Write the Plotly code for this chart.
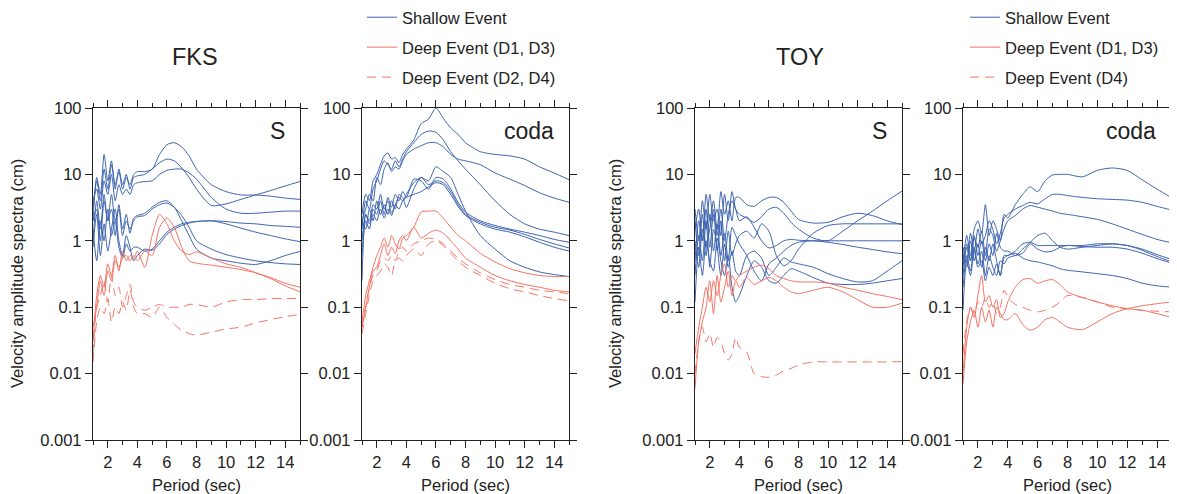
import plotly.graph_objects as go

# period grid (sec) shared by every spectrum
PERIOD = [1.0, 1.25, 1.5, 1.75, 2.0, 2.25, 2.5,
          2.75, 3.0, 3.25, 3.5, 3.75, 4.0, 4.5,
          5.0, 5.5, 6.0, 6.5, 7.0, 7.5, 8.0,
          9.0, 10.0, 11.0, 12.0, 13.0, 14.0, 15.0]

# ---- FKS, S window ----
FKS_S_SHALLOW = [
    [3, 8, 4, 12, 6, 14, 7, 11, 6, 9, 7, 10, 11, 11, 12, 20, 28, 30, 26, 19, 12, 7, 5.5, 4.9, 4.9, 4.7, 4.4, 4.2],
    [2, 9, 5, 20, 8, 16, 6, 12, 7, 10, 6, 9, 9.5, 10, 12, 15, 17, 16, 12.5, 9, 6, 3.4, 3.6, 4.2, 4.9, 5.7, 6.7, 7.8],
    [4, 6, 3, 8, 5, 10, 4, 7, 5, 6, 5, 7, 7.5, 7.8, 8, 10, 11.5, 12, 12, 10.5, 8.5, 4.5, 3, 2.6, 2.6, 2.7, 2.8, 2.8],
    [1, 4, 1.5, 5, 2, 3, 1.2, 3.5, 1.5, 2.5, 1.3, 2.2, 2.4, 2.6, 3.2, 3.8, 4.0, 3.2, 2.0, 1.2, 0.75, 0.55, 0.5, 0.46, 0.44, 0.5, 0.6, 0.69],
    [2, 3, 1, 4, 2, 5, 2, 3, 1.2, 2, 1.5, 2, 2.3, 2.4, 3.0, 3.5, 3.7, 3.2, 2.4, 1.6, 1.0, 0.75, 0.62, 0.55, 0.5, 0.47, 0.45, 0.44],
    [1.5, 0.5, 2, 1, 3, 1.2, 2, 0.8, 0.55, 0.9, 0.7, 0.8, 0.8, 0.7, 0.75, 1.0, 1.35, 1.6, 1.8, 1.9, 1.95, 2.0, 1.95, 1.85, 1.8, 1.7, 1.65, 1.6],
    [0.8, 2.5, 0.6, 1.8, 0.7, 1.5, 3, 1, 0.6, 1.2, 0.8, 0.5, 0.6, 0.75, 0.72, 0.9, 1.25, 1.5, 1.7, 1.85, 1.95, 2.0, 1.8, 1.55, 1.35, 1.2, 1.07, 0.97],
]
FKS_S_DEEP = [
    [0.03, 0.15, 0.3, 0.2, 0.45, 0.3, 0.6, 0.35, 0.7, 0.5, 0.6, 0.55, 0.7, 0.4, 1.2, 2.5, 1.8, 1.0, 0.7, 0.62, 0.68, 0.55, 0.45, 0.4, 0.33, 0.28, 0.23, 0.2],
    [0.05, 0.1, 0.25, 0.15, 0.35, 0.25, 0.5, 0.4, 0.55, 0.6, 0.5, 0.6, 0.5, 0.7, 0.6, 1.6, 2.2, 1.6, 0.8, 0.5, 0.46, 0.43, 0.4, 0.37, 0.33, 0.27, 0.21, 0.17],
]
FKS_S_DEEP_DASH = [
    [0.02, 0.1, 0.15, 0.25, 0.12, 0.3, 0.15, 0.2, 0.1, 0.15, 0.22, 0.12, 0.1, 0.09, 0.1, 0.11, 0.1, 0.1, 0.1, 0.11, 0.11, 0.1, 0.12, 0.13, 0.13, 0.135, 0.135, 0.135],
    [0.015, 0.06, 0.1, 0.08, 0.13, 0.06, 0.1, 0.08, 0.12, 0.09, 0.18, 0.1, 0.08, 0.08, 0.07, 0.1, 0.07, 0.055, 0.045, 0.04, 0.038, 0.042, 0.047, 0.05, 0.058, 0.065, 0.072, 0.078],
]

# ---- FKS, coda window ----
FKS_CODA_SHALLOW = [
    [2.5, 5, 4, 8, 10, 14, 19, 21, 17, 18, 15, 20, 24, 33, 58, 68, 100, 70, 50, 40, 30, 22, 20, 19, 17, 13, 10.5, 8.3],
    [1.5, 4, 3, 6, 8, 12, 16, 14, 12, 16, 13, 17, 22, 30, 40, 45, 43, 33, 22, 16, 12, 7, 4, 2.5, 1.8, 1.5, 1.35, 1.2],
    [2, 3, 5, 4, 9, 7, 12, 15, 11, 13, 12, 16, 20, 24, 27, 30, 30, 26, 20, 17, 16, 14, 10.5, 8.5, 6.8, 5.3, 4.4, 3.8],
    [1, 2.5, 2, 3.5, 3, 5, 3, 4, 2.6, 3.5, 4.5, 4, 5, 7.5, 9, 8, 13, 11, 9, 5, 2.8, 1.2, 0.75, 0.5, 0.4, 0.34, 0.31, 0.29],
    [0.6, 2, 1.5, 3, 2.5, 4, 2.5, 4.5, 3.2, 5, 4, 5.5, 4.5, 8.5, 8, 6, 9, 8.5, 6, 3.8, 2.7, 2.0, 1.7, 1.5, 1.35, 1.2, 1.05, 0.95],
    [2, 1.5, 3, 2, 4, 2.5, 3.5, 2.5, 4, 3, 5, 4.5, 3.2, 6, 9, 7, 8, 7.5, 5.5, 3.5, 2.5, 1.9, 1.6, 1.45, 1.25, 1.05, 0.9, 0.78],
    [0.25, 2.5, 1.8, 2.5, 2, 3, 2.2, 3, 2.4, 3.5, 3, 4, 4.5, 5, 5.5, 6.5, 7.5, 7, 5, 3.3, 2.4, 1.8, 1.5, 1.35, 1.15, 0.95, 0.8, 0.7],
]
FKS_CODA_DEEP = [
    [0.06, 0.15, 0.25, 0.4, 0.6, 0.8, 1.1, 0.8, 1.2, 0.9, 0.75, 1.1, 1.2, 1.6, 2.7, 2.8, 2.8, 2.2, 1.6, 1.2, 1.0, 0.65, 0.48, 0.38, 0.33, 0.3, 0.29, 0.29],
    [0.05, 0.1, 0.2, 0.35, 0.4, 0.6, 0.9, 0.6, 0.8, 0.65, 1.0, 1.2, 1.0, 1.6, 1.1, 1.3, 1.45, 1.3, 1.0, 0.75, 0.55, 0.4, 0.3, 0.25, 0.22, 0.2, 0.18, 0.17],
]
FKS_CODA_DEEP_DASH = [
    [0.05, 0.1, 0.2, 0.3, 0.35, 0.5, 0.55, 0.5, 0.6, 0.5, 0.7, 0.8, 0.7, 0.9, 1.0, 1.1, 1.05, 0.9, 0.7, 0.55, 0.45, 0.33, 0.26, 0.22, 0.2, 0.18, 0.17, 0.16],
    [0.04, 0.08, 0.15, 0.25, 0.3, 0.35, 0.45, 0.4, 0.3, 0.5, 0.55, 0.5, 0.6, 0.75, 0.6, 0.9, 1.0, 0.85, 0.65, 0.5, 0.4, 0.3, 0.23, 0.19, 0.17, 0.15, 0.135, 0.125],
]

# ---- TOY, S window ----
TOY_S_SHALLOW = [
    [1.5, 3, 1, 5, 2, 4, 1.5, 5.5, 2.5, 4, 2, 4.5, 4.5, 3.5, 3.3, 4.0, 4.5, 4.5, 3.8, 2.8, 2.1, 1.85, 1.9, 2.3, 2.6, 2.4, 2.0, 1.75],
    [3, 1, 4, 1.5, 5, 2, 3, 1.2, 5, 2, 5.5, 3, 2.5, 2.2, 1.9, 2.3, 3.0, 3.2, 2.6, 1.9, 1.5, 1.1, 1.0, 1.4, 2.0, 2.8, 4.0, 5.6],
    [0.5, 2, 1, 3, 0.8, 2.5, 1.2, 3, 1, 2.5, 4, 3, 2.0, 2.3, 1.6, 1.0, 0.78, 0.85, 1.0, 1.05, 1.02, 1.0, 1.0, 1.0, 1.0, 1.0, 1.0, 1.0],
    [1, 0.4, 1.5, 0.6, 2.5, 0.7, 1.8, 0.6, 1.3, 0.5, 1.6, 1.2, 0.9, 0.6, 0.35, 0.25, 0.45, 0.55, 0.7, 0.85, 0.95, 1.0, 0.95, 0.88, 0.8, 0.74, 0.68, 0.64],
    [0.3, 1.2, 0.5, 2, 0.4, 1.5, 0.8, 0.3, 0.9, 0.4, 0.7, 0.35, 0.3, 0.6, 0.7, 0.55, 0.3, 0.4, 0.55, 0.48, 0.45, 0.4, 0.32, 0.27, 0.24, 0.25, 0.35, 0.5],
    [0.12, 0.8, 0.3, 1, 0.5, 0.35, 1.1, 0.5, 0.3, 0.6, 0.2, 0.12, 0.15, 0.3, 0.5, 0.4, 0.25, 0.23, 0.3, 0.38, 0.35, 0.28, 0.23, 0.22, 0.22, 0.23, 0.25, 0.27],
    [2, 0.6, 2.5, 0.8, 1.5, 3, 0.7, 2, 0.5, 1.4, 0.6, 0.9, 1.2, 1.4, 1.1, 1.8, 1.4, 0.6, 0.42, 0.5, 0.75, 1.3, 1.7, 1.8, 1.8, 1.8, 1.8, 1.8],
]
TOY_S_DEEP = [
    [0.02, 0.05, 0.1, 0.2, 0.12, 0.25, 0.15, 0.3, 0.45, 0.2, 0.3, 0.25, 0.3, 0.35, 0.4, 0.43, 0.38, 0.3, 0.27, 0.25, 0.24, 0.24, 0.23, 0.2, 0.18, 0.16, 0.145, 0.13],
    [0.006, 0.03, 0.06, 0.1, 0.25, 0.08, 0.3, 0.12, 0.2, 0.35, 0.15, 0.25, 0.2, 0.28, 0.22, 0.25, 0.28, 0.25, 0.2, 0.17, 0.16, 0.18, 0.2, 0.17, 0.13, 0.1, 0.1, 0.115],
]
TOY_S_DEEP_DASH = [
    [0.01, 0.03, 0.05, 0.03, 0.04, 0.025, 0.035, 0.03, 0.02, 0.016, 0.02, 0.035, 0.025, 0.021, 0.01, 0.009, 0.0088, 0.0095, 0.011, 0.012, 0.0135, 0.015, 0.015, 0.015, 0.015, 0.015, 0.015, 0.0152],
]

# ---- TOY, coda window ----
TOY_CODA_SHALLOW = [
    [0.5, 1.2, 0.6, 1.5, 2.0, 1.3, 3.5, 1.2, 2.0, 1.5, 1.0, 2.5, 2.2, 3.5, 5, 6.5, 5.5, 8, 9.8, 10, 10, 9.2, 11.5, 12.5, 11.5, 8.3, 6, 4.4],
    [0.8, 0.5, 1.3, 0.7, 1.5, 0.9, 1.2, 2.0, 1.5, 0.9, 1.3, 2.2, 2.5, 3.0, 3.4, 3.8, 3.6, 4.3, 5.0, 5.0, 4.8, 4.5, 4.3, 4.2, 4.1, 3.8, 3.3, 2.9],
    [0.4, 0.9, 0.5, 1.1, 0.8, 1.4, 0.6, 1.5, 1.2, 0.7, 1.0, 1.5, 2.0, 2.4, 3.0, 3.4, 3.2, 3.0, 2.8, 2.6, 2.5, 2.3, 2.1, 1.8, 1.5, 1.25, 1.05, 0.93],
    [0.3, 0.8, 0.5, 1.2, 0.6, 1.0, 0.5, 0.9, 0.6, 1.3, 0.8, 0.7, 0.7, 0.6, 0.75, 0.95, 1.2, 1.3, 1.0, 0.8, 0.75, 0.8, 0.85, 0.9, 0.85, 0.75, 0.62, 0.52],
    [0.6, 0.4, 1.0, 0.5, 0.9, 0.4, 0.8, 0.5, 0.9, 0.5, 0.3, 0.6, 0.6, 0.7, 0.9, 0.95, 0.85, 0.85, 0.85, 0.85, 0.85, 0.85, 0.9, 0.9, 0.85, 0.72, 0.58, 0.48],
    [0.2, 0.6, 0.35, 0.8, 0.45, 0.7, 0.3, 0.6, 0.4, 0.3, 0.5, 0.45, 0.55, 0.6, 0.65, 0.9, 0.75, 0.68, 0.7, 0.8, 0.85, 0.82, 0.8, 0.8, 0.75, 0.65, 0.54, 0.46],
    [0.09, 0.5, 0.3, 0.7, 0.4, 0.5, 0.25, 0.4, 0.3, 0.45, 0.3, 0.55, 0.6, 0.65, 0.55, 0.5, 0.48, 0.45, 0.42, 0.38, 0.36, 0.34, 0.32, 0.3, 0.27, 0.23, 0.21, 0.2],
]
TOY_CODA_DEEP = [
    [0.01, 0.05, 0.1, 0.07, 0.15, 0.3, 0.12, 0.15, 0.1, 0.13, 0.07, 0.08, 0.12, 0.2, 0.26, 0.27, 0.23, 0.25, 0.26, 0.22, 0.17, 0.14, 0.12, 0.105, 0.095, 0.09, 0.08, 0.07],
    [0.007, 0.03, 0.06, 0.09, 0.05, 0.1, 0.06, 0.09, 0.05, 0.1, 0.08, 0.065, 0.065, 0.08, 0.055, 0.045, 0.05, 0.065, 0.07, 0.06, 0.05, 0.046, 0.06, 0.08, 0.095, 0.105, 0.113, 0.12],
]
TOY_CODA_DEEP_DASH = [
    [0.02, 0.06, 0.1, 0.08, 0.12, 0.1, 0.14, 0.1, 0.12, 0.08, 0.1, 0.18, 0.14, 0.11, 0.1, 0.09, 0.085, 0.09, 0.1, 0.12, 0.15, 0.14, 0.12, 0.1, 0.095, 0.09, 0.087, 0.085],
]

Y_TICKS = [0.001, 0.01, 0.1, 1, 10, 100]
Y_LABELS = ["0.001", "0.01", "0.1", "1", "10", "100"]
X_TICKS = [2, 4, 6, 8, 10, 12, 14]
X_MINOR = [1, 3, 5, 7, 9, 11, 13, 15]

BLUE = "#3D63B0"
RED = "#F47264"
FONT = "Liberation Sans, Arial, sans-serif"
INK = "#222222"

fig = go.Figure()


def add_panel(n, shallow, deep, deep_dash, legend, dash_name):
    xa = "x" if n == 1 else "x%d" % n
    ya = "y" if n == 1 else "y%d" % n
    groups = [
        (shallow, BLUE, "solid", "Shallow Event"),
        (deep, RED, "solid", "Deep Event (D1, D3)"),
        (deep_dash, RED, "9px,6px", dash_name),
    ]
    for curves, color, dash, name in groups:
        for i, vals in enumerate(curves):
            fig.add_trace(go.Scatter(
                x=PERIOD, y=vals, xaxis=xa, yaxis=ya, mode="lines",
                line=dict(color=color, width=1, dash=dash, shape="spline", smoothing=0.7),
                name=name, legend=legend, legendgroup=legend + name,
                showlegend=(n in (1, 3) and i == 0), hoverinfo="skip"))


add_panel(1, FKS_S_SHALLOW, FKS_S_DEEP, FKS_S_DEEP_DASH, "legend", "Deep Event (D2, D4)")
add_panel(2, FKS_CODA_SHALLOW, FKS_CODA_DEEP, FKS_CODA_DEEP_DASH, "legend", "Deep Event (D2, D4)")
add_panel(3, TOY_S_SHALLOW, TOY_S_DEEP, TOY_S_DEEP_DASH, "legend2", "Deep Event (D4)")
add_panel(4, TOY_CODA_SHALLOW, TOY_CODA_DEEP, TOY_CODA_DEEP_DASH, "legend2", "Deep Event (D4)")

# the page body adds an 8px margin, so the figure is shrunk and positions shifted
OFF = 8
W, H = 1177 - OFF, 494 - OFF


def px(p):
    return (p - OFF) / W


def py_(p):
    return 1 - (p - OFF) / H


x_domains = [(93, 300), (362, 569), (695, 902), (963, 1172)]
y_dom = [py_(440), py_(108)]

axis_common = dict(showline=True, linecolor=INK, linewidth=1.3, mirror="ticks",
                   ticks="outside", ticklen=7, tickwidth=1, tickcolor=INK,
                   showgrid=False, zeroline=False, automargin=False,
                   tickfont=dict(family=FONT, size=16.5, color=INK))

layout = dict(width=W, height=H, margin=dict(l=0, r=0, t=0, b=0, autoexpand=False),
              paper_bgcolor="white", plot_bgcolor="white",
              font=dict(family=FONT, color=INK))

for k, (x0, x1) in enumerate(x_domains, start=1):
    sfx = "" if k == 1 else str(k)
    layout["xaxis" + sfx] = dict(axis_common, domain=[px(x0), min(px(x1), 1.0)], range=[1, 15],
                                 tickvals=X_TICKS, anchor="y" + sfx,
                                 minor=dict(tickvals=X_MINOR, ticks="outside", ticklen=4,
                                            tickwidth=1, tickcolor=INK, showgrid=False),
                                 title=dict(text="Period (sec)", standoff=9,
                                            font=dict(family=FONT, size=16.5, color=INK)))
    layout["yaxis" + sfx] = dict(axis_common, domain=y_dom, type="log", range=[-3, 2],
                                 tickvals=Y_TICKS, ticktext=Y_LABELS,
                                 anchor="x" + sfx)

legend_common = dict(font=dict(family=FONT, size=16.5, color=INK), bgcolor="rgba(0,0,0,0)",
                     tracegroupgap=5.5, xanchor="left", yanchor="top", y=1.0165)
layout["legend"] = dict(legend_common, x=px(362))
layout["legend2"] = dict(legend_common, x=px(965))

ann = []
for text, xc in (("FKS", 195), ("TOY", 800)):
    ann.append(dict(text=text, x=px(xc), y=py_(57), xref="paper", yref="paper",
                    xanchor="center", yanchor="middle", showarrow=False,
                    font=dict(family=FONT, size=23.5, color=INK)))
for k, text in ((1, "S"), (2, "coda"), (3, "S"), (4, "coda")):
    sfx = "" if k == 1 else str(k)
    ann.append(dict(text=text, x=0.935, y=0.93, xref="x%s domain" % sfx, yref="y%s domain" % sfx,
                    xanchor="right", yanchor="middle", showarrow=False,
                    font=dict(family=FONT, size=23, color=INK)))
for xc in (17, 615):
    ann.append(dict(text="Velocity amplitude spectra (cm)", textangle=-90,
                    x=px(xc), y=py_(274), xref="paper", yref="paper",
                    xanchor="center", yanchor="middle", showarrow=False,
                    font=dict(family=FONT, size=16.5, color=INK)))
layout["annotations"] = ann

fig.update_layout(**layout)
fig.write_html("out.html")
